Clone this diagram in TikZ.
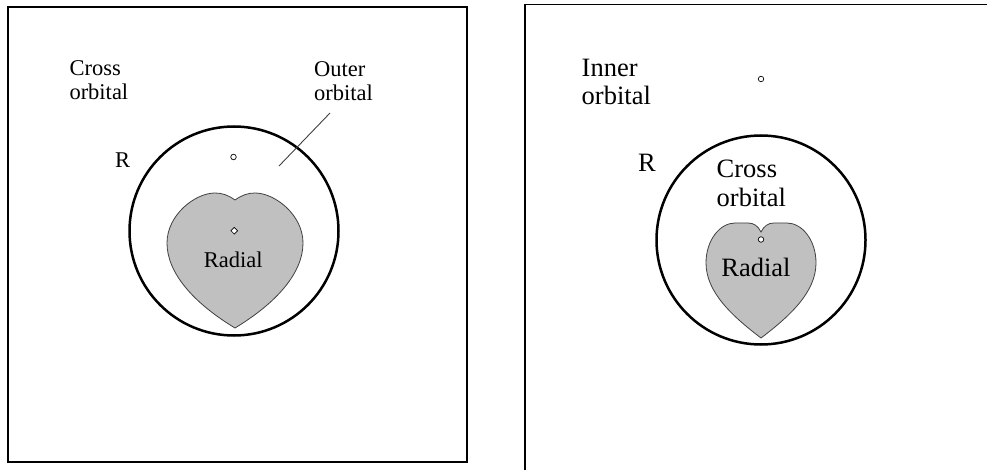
\documentclass[tikz,border=0pt]{standalone}
\usepackage{fontspec}
\setmainfont{Liberation Serif}
\usetikzlibrary{shapes.geometric}
\definecolor{heartfill}{RGB}{192,192,192}
\definecolor{heartline}{RGB}{64,64,64}
\begin{document}
\begin{tikzpicture}[x=1pt,y=-1pt,
  frame/.style={draw=black,line width=1.2pt},
  orbit/.style={circle,draw=black,line width=2.5pt,inner sep=0pt,outer sep=0pt},
  heart/.style={fill=heartfill,draw=heartline,line width=0.8pt},
  dot/.style={circle,draw=black,fill=white,line width=0.7pt,inner sep=0pt,minimum size=5.5pt},
  centremark/.style={diamond,draw=black,fill=white,line width=0.7pt,inner sep=0pt,minimum size=7pt},
  lblA/.style={font=\fontsize{22.5}{24.3}\selectfont,align=left,inner sep=0pt},
  lblB/.style={font=\fontsize{26.5}{28.8}\selectfont,align=left,inner sep=0pt},
  lead/.style={draw=heartline,line width=0.9pt}]
\useasboundingbox (0,0) rectangle (987,470);
\clip (0,0) rectangle (987,470);

% ---------- left panel ----------
\draw[frame] (8,7) rectangle (467,462);
\node[orbit,minimum size=209pt] (circA) at (234,231) {};
\path[heart] (235,200) .. controls (228,195) and (222,193) .. (215,193)
  .. controls (195,193) and (167,215) .. (167,243)
  .. controls (167,272) and (192,302) .. (235,328)
  .. controls (278,302) and (303,272) .. (303,243)
  .. controls (303,215) and (275,193) .. (255,193)
  .. controls (248,193) and (242,195) .. (235,200) -- cycle;
\node[dot] (topA) at (233.5,157) {};
\node[centremark] (ctrA) at (234.3,230.7) {};
\node[lblA,anchor=north west] (crossA) at (69.3,60.5) {Cross\\orbital};
\node[lblA,anchor=north west] (outerA) at (314,61.5) {Outer\\orbital};
\node[lblA,anchor=base west] (rA) at (115,168) {R};
\node[lblA,anchor=base] (radA) at (233.3,267.5) {Radial};
\coordinate (leadT) at (330,113);
\coordinate (leadB) at (279,166);
\draw[lead] (leadT) -- (leadB);

% ---------- right panel ----------
\draw[frame] (525,480) -- (525,4.5) -- (1000,4.5);
\node[orbit,minimum size=209pt] (circB) at (761,240) {};
\path[heart] (761,232) .. controls (758,226) and (754,223) .. (748,223)
  -- (735,223)
  .. controls (720,223) and (706,240) .. (706,263)
  .. controls (706,292) and (732,316) .. (761,338)
  .. controls (790,316) and (816,292) .. (816,263)
  .. controls (816,240) and (802,223) .. (787,223)
  -- (774,223)
  .. controls (768,223) and (764,226) .. (761,232) -- cycle;
\node[dot] (topB) at (761,79) {};
\node[dot] (ctrB) at (761,239.5) {};
\node[lblB,anchor=north west] (innerB) at (581.5,58.5) {Inner\\orbital};
\node[lblB,anchor=north west] (crossB) at (716.5,160) {Cross\\orbital};
\node[lblB,anchor=base west] (rB) at (638,172) {R};
\node[lblB,anchor=base] (radB) at (756,276.7) {Radial};
\end{tikzpicture}
\end{document}
